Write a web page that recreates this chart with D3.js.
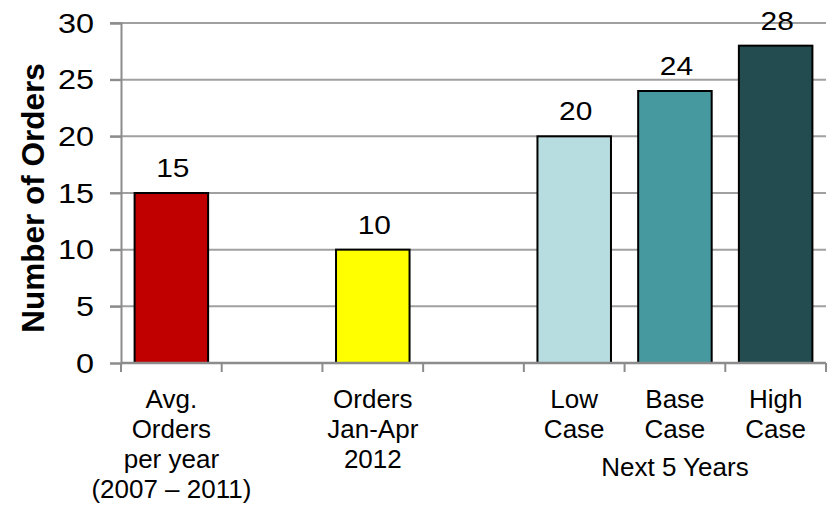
<!DOCTYPE html>
<html><head><meta charset="utf-8">
<script src="https://cdn.jsdelivr.net/npm/d3@7"></script>
<style>body{margin:0;background:#fff}text{font-family:"Liberation Sans",Arial,sans-serif;fill:#000}</style>
</head><body><svg id="c" width="830" height="509"></svg>
<script>
const categories = ["avg","gap1","orders","gap2","low","base","high"];
const categoryLabels = [["Avg.","Orders","per year","(2007 – 2011)"],[],["Orders","Jan-Apr","2012"],[],["Low","Case"],["Base","Case"],["High","Case"]];
const values = [15,null,10,null,20,24,28];
const colors = ["#C00000",null,"#FFFF00",null,"#B7DDE0","#4799A0","#234C50"];
const yTicks = [0,5,10,15,20,25,30];
const groupLabel = "Next 5 Years";
const groupCategory = "base";
const yTitle = "Number of Orders";

const svg = d3.select("#c");
const x = d3.scaleBand().domain(categories).range([121,826]).paddingInner(0.27).paddingOuter(0.135);
const y = d3.scaleLinear().domain([0,30]).range([363,23]);
const step = x.step();

function txt(g, px, py, s, size, sx, anchor, rot){
  return g.append("text")
    .attr("transform",`translate(${px},${py})${rot?` rotate(${rot})`:""} scale(${sx},1)`)
    .attr("text-anchor",anchor||"middle").attr("font-size",size).text(s);
}

// gridlines
svg.append("g").selectAll("line").data(yTicks.filter(d=>d>0)).join("line")
  .attr("x1",110).attr("x2",826).attr("y1",d=>y(d)).attr("y2",d=>y(d))
  .attr("stroke","#A0A0A0").attr("stroke-width",2);

// y axis
const ya = svg.append("g").attr("transform","translate(121,0)").call(d3.axisLeft(y).tickValues(yTicks).tickSize(11).tickFormat(""));
ya.select(".domain").attr("stroke","#8C8C8C").attr("stroke-width",2);
ya.selectAll(".tick line").attr("stroke","#8C8C8C").attr("stroke-width",2);
const yl = svg.append("g");
yTicks.forEach(t=>txt(yl, 94, y(t)+9.8, t, 27, 1.2, "end"));

// bars
const data = categories.map((c,i)=>({c,v:values[i],col:colors[i]})).filter(d=>d.v!=null);
svg.append("g").selectAll("rect").data(data).join("rect")
  .attr("x",d=>x(d.c)).attr("width",x.bandwidth())
  .attr("y",d=>y(d.v)).attr("height",d=>y(0)-y(d.v))
  .attr("fill",d=>d.col).attr("stroke","#000").attr("stroke-width",2);

// x axis
const x0 = x.range()[0];
svg.append("line").attr("x1",x0).attr("x2",826).attr("y1",y(0)).attr("y2",y(0)).attr("stroke","#8C8C8C").attr("stroke-width",2.5);
svg.append("g").selectAll("line").data(d3.range(categories.length+1)).join("line")
  .attr("x1",i=>x0+i*step).attr("x2",i=>x0+i*step).attr("y1",y(0)).attr("y2",y(0)+9)
  .attr("stroke","#8C8C8C").attr("stroke-width",2);

// data labels
const dl = svg.append("g");
data.forEach(d=>txt(dl, x(d.c)+x.bandwidth()/2+1.5, y(d.v)-16, d.v, 26, 1.15));

// category labels
const cl = svg.append("g");
categories.forEach((c,i)=>{
  categoryLabels[i].forEach((t,j)=>txt(cl, x(c)+x.bandwidth()/2, 408+j*30, t, 25, 1.04));
});
txt(cl, x(groupCategory)+x.bandwidth()/2, 476, groupLabel, 25, 1.04);

// y title
txt(svg, 44, (y(0)+y(30))/2+5, yTitle, 31.5, 1, "middle", -90).attr("font-weight","bold");
</script></body></html>
